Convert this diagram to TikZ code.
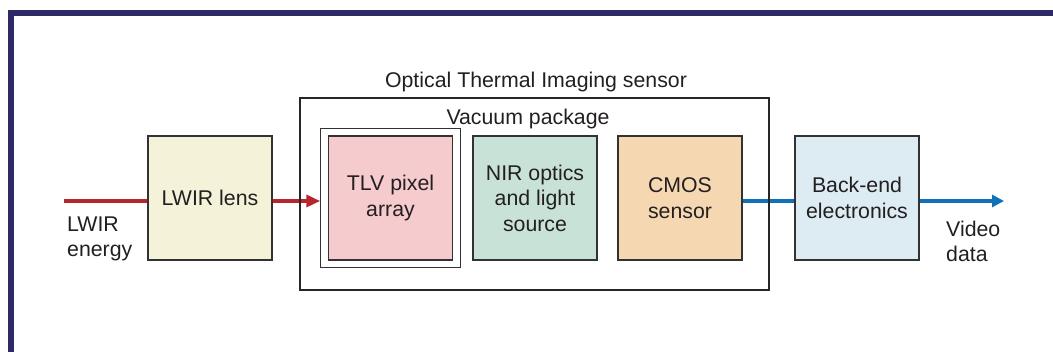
\documentclass[tikz,border=0pt]{standalone}
\usepackage{fontspec}
\setmainfont{Liberation Sans}
\usetikzlibrary{arrows.meta, positioning, fit, calc}

\definecolor{framenavy}{RGB}{46,42,104}
\definecolor{txtgray}{RGB}{35,31,32}
\definecolor{boxgray}{RGB}{50,50,50}
\definecolor{lensyellow}{RGB}{244,242,216}
\definecolor{tlvpink}{RGB}{246,203,205}
\definecolor{nirgreen}{RGB}{200,226,216}
\definecolor{cmospeach}{RGB}{245,216,178}
\definecolor{backblue}{RGB}{221,235,243}
\definecolor{lwirred}{RGB}{183,38,44}
\definecolor{videoblue}{RGB}{16,112,184}

\begin{document}
\begin{tikzpicture}[x=1pt, y=1pt, font=\fontsize{21.3}{25.5}\selectfont, text=txtgray,
    block/.style={draw=boxgray, line width=1.6pt, minimum width=124pt, minimum height=124pt, inner sep=0pt, align=center},
    redline/.style={draw=lwirred, line width=3.8pt},
    blueline/.style={draw=videoblue, line width=3.8pt}]
    \useasboundingbox (0,0) rectangle (1053,352);
    \draw[framenavy, line width=6pt] (11,0) -- (11,339) -- (1053,339);

    % blocks
    \node[block, fill=lensyellow] (lens) at (210,154) {LWIR lens};
    \foreach \x/\name/\col/\txt in {390.5/tlv/tlvpink/{TLV pixel\\array}, 535/nir/nirgreen/{NIR optics\\and light\\source}, 680/cmos/cmospeach/{CMOS\\sensor}} {
        \node[block, fill=\col] (\name) at (\x,154) {\txt};
    }
    \node[draw=boxgray, line width=0.9pt, inner sep=7pt, fit=(tlv)] (tlvframe) {};
    \node[block, fill=backblue] (backend) at (857,154) {Back-end\\electronics};

    % labels
    \node[anchor=base] (sensorlabel) at (536,264) {Optical Thermal Imaging sensor};
    \node[anchor=base] (vaclabel) at (528,227) {Vacuum package};
    \node[anchor=base west, align=left, inner sep=0pt] (lwirtext) at (67,95) {LWIR\\energy};
    \node[anchor=base west, align=left, inner sep=0pt] (videotext) at (946,90) {Video\\data};

    % signal path
    \coordinate (lwirin) at (64,151);
    \coordinate (videoout) at (1004,151);
    \draw[redline] (lwirin) -- (lens.west |- lwirin);
    \draw[redline, -{Triangle[length=14pt, width=12pt]}] (lens.east |- lwirin) -- (tlvframe.west |- lwirin);
    \draw[blueline] (cmos.east |- lwirin) -- (backend.west |- lwirin);
    \draw[blueline, -{Triangle[length=12pt, width=12pt]}] (backend.east |- lwirin) -- (videoout);

    % sensor package outline
    \node[draw=black!85, line width=2.2pt, minimum width=469pt, minimum height=192pt] (sensor) at (534.5,158) {};
\end{tikzpicture}
\end{document}
